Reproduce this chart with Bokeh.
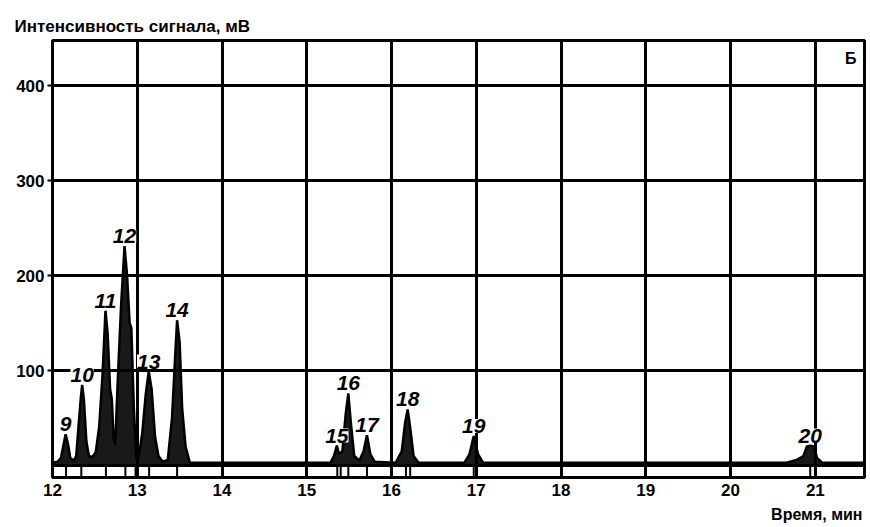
from bokeh.plotting import figure
from bokeh.models import Range1d, FixedTicker, ColumnDataSource, LabelSet, Label, Title
from bokeh.core.properties import value
from bokeh.embed import file_html
from bokeh.resources import INLINE

# ---- data ----
time_min = [12.00, 12.06, 12.10, 12.13, 12.155, 12.18, 12.21, 12.25,
            12.28, 12.31, 12.335, 12.35, 12.37, 12.40, 12.43, 12.47,
            12.51, 12.55, 12.59, 12.625, 12.65, 12.68, 12.70, 12.72, 12.74,
            12.77, 12.81, 12.85, 12.88, 12.91, 12.93, 12.96, 12.99,
            13.02, 13.06, 13.10, 13.135, 13.17, 13.21, 13.25, 13.30,
            13.36, 13.41, 13.45, 13.47, 13.50, 13.53, 13.57, 13.62,
            15.28, 15.32, 15.355, 15.38,
            15.42, 15.46, 15.49, 15.52, 15.56,
            15.62, 15.67, 15.71, 15.75, 15.80,
            16.05, 16.12, 16.16, 16.19, 16.22, 16.26, 16.32,
            16.86, 16.92, 16.97, 17.02, 17.08,
            20.66, 20.78, 20.86, 20.90, 20.94, 20.98, 21.02, 21.08, 21.58]
signal_mv = [3, 4, 8, 22, 33, 24, 8, 5,
             10, 45, 72, 85, 70, 25, 10, 9,
             14, 40, 95, 163, 140, 80, 70, 30, 22,
             90, 170, 231, 200, 150, 145, 60, 6,
             10, 35, 75, 99, 80, 30, 10, 4,
             6, 50, 120, 153, 130, 60, 20, 3,
             3, 10, 21, 12,
             15, 55, 76, 45, 10,
             5, 15, 32, 12, 4,
             3, 15, 45, 59, 40, 10, 3,
             3, 12, 31, 12, 3,
             3, 6, 10, 20, 21, 20, 8, 3, 3]

peak_numbers = ["9", "10", "11", "12", "13", "14", "15", "16", "17", "18", "19", "20"]
peak_time = [12.155, 12.35, 12.625, 12.85, 13.135, 13.47, 15.355, 15.49, 15.71, 16.19, 16.97, 20.94]
peak_height = [33, 85, 163, 231, 99, 153, 21, 76, 32, 59, 31, 21]

marker_time = [12.16, 12.34, 12.63, 12.86, 12.98, 13.14, 13.47,
               15.36, 15.40, 15.49, 15.71, 16.17, 16.22, 16.97, 20.94, 21.00]

x_ticks = [12, 13, 14, 15, 16, 17, 18, 19, 20, 21]
y_ticks = [100, 200, 300, 400]
y_grid = [0, 100, 200, 300, 400]

x_start, x_end = 12.0, 21.58
y_start, y_end = -12.6, 447.5

FONT = "Liberation Sans"

p = figure(width=866, height=527, output_backend="svg", toolbar_location=None,
           x_range=Range1d(x_start, x_end), y_range=Range1d(y_start, y_end),
           min_border_left=52, min_border_right=2, min_border_top=40, min_border_bottom=49)

p.background_fill_color = "white"
p.border_fill_color = "white"
p.outline_line_color = "black"
p.outline_line_width = 3

# title (y axis name) at top-left
p.title.text = "Интенсивность сигнала, мВ"
p.title.align = "left"
p.title.offset = -38
p.title.text_font = FONT
p.title.text_font_style = "bold"
p.title.text_font_size = "17px"
p.title.text_color = "black"

p.add_layout(Title(text="Время, мин", align="right", text_font=FONT, text_font_style="bold",
                   text_font_size="16px", text_color="black", offset=2), "below")

# grids
p.xgrid.ticker = FixedTicker(ticks=x_ticks[1:])
p.ygrid.ticker = FixedTicker(ticks=y_grid)
for g in (p.xgrid, p.ygrid):
    g.grid_line_color = "black"
    g.grid_line_width = 3
    g.grid_line_alpha = 1.0

# axes
p.xaxis.ticker = FixedTicker(ticks=x_ticks)
p.yaxis.ticker = FixedTicker(ticks=y_ticks)
for ax in (p.xaxis, p.yaxis):
    ax.axis_line_color = "black"
    ax.axis_line_width = 3
    ax.major_tick_line_color = "black"
    ax.major_tick_line_width = 2
    ax.major_tick_in = 0
    ax.major_tick_out = 5
    ax.minor_tick_line_color = None
    ax.major_label_text_font = FONT
    ax.major_label_text_font_style = "bold"
    ax.major_label_text_font_size = "17px"
    ax.major_label_text_color = "black"
p.xaxis.major_tick_out = 0
p.xaxis.major_label_standoff = 6
p.yaxis.major_label_standoff = 3

# signal
p.varea(x=time_min, y1=0, y2=signal_mv, fill_color="black", fill_alpha=0.9)
p.line(x=time_min, y=signal_mv, line_color="black", line_width=2.5)

# peak markers below zero line
p.segment(x0=marker_time, y0=[0] * len(marker_time), x1=marker_time,
          y1=[y_start] * len(marker_time), line_color="black", line_width=2)

# peak labels
src = ColumnDataSource(dict(x=peak_time, y=peak_height, t=peak_numbers))
labels = LabelSet(x="x", y="y", text="t", source=src, text_align="center", text_baseline="bottom",
                  y_offset=3, text_font=value(FONT), text_font_style="bold italic",
                  text_font_size="21px", text_color="black",
                  background_fill_color="white", background_fill_alpha=1.0)
p.add_layout(labels)

p.add_layout(Label(x=x_end, y=y_end, x_offset=-8, y_offset=-9, text="Б", text_align="right",
                   text_baseline="top", text_font=FONT, text_font_style="bold",
                   text_font_size="16px", text_color="black"))

open("out.html", "w").write(file_html(p, INLINE))
